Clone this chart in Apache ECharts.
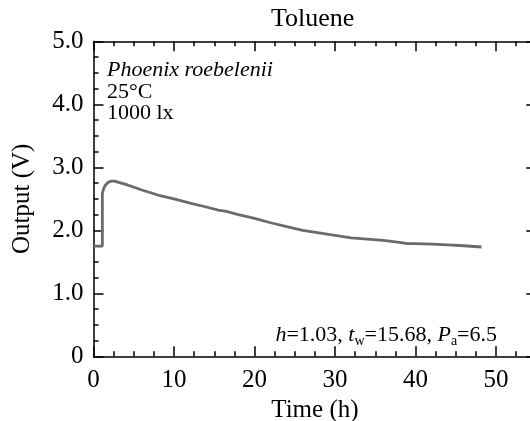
<!DOCTYPE html>
<html>
<head>
<meta charset="utf-8">
<script src="https://cdn.jsdelivr.net/npm/echarts@6/dist/echarts.min.js"></script>
<style>
  html, body { margin: 0; padding: 0; overflow: hidden; background: #fff; }
  #chart { width: 530px; height: 421px; }
</style>
</head>
<body>
<div id="chart"></div>
<script>
// Sensor output over time after toluene exposure
const timeHours = [0, 1.1, 1.1, 1.25, 1.5, 1.8, 2.1, 2.6, 4, 6, 8, 10, 12, 14, 15.5, 16.5, 18, 20,
  22, 24, 26, 28, 30, 32, 34, 36, 38, 39, 40, 42, 44, 46, 48.2];
const outputVolts = [1.75, 1.75, 2.58, 2.66, 2.72, 2.76, 2.78, 2.78, 2.73, 2.64, 2.56, 2.50, 2.43, 2.37,
  2.32, 2.30, 2.25, 2.19, 2.12, 2.06, 2.00, 1.96, 1.92, 1.88, 1.86, 1.84, 1.81, 1.79, 1.79, 1.78,
  1.77, 1.755, 1.735];
const xTicks = [0, 10, 20, 30, 40, 50];
const yTickLabels = { 0: '0', 1: '1.0', 2: '2.0', 3: '3.0', 4: '4.0', 5: '5.0' };

const FONT = '"Liberation Serif", "DejaVu Serif", serif';
const points = timeHours.map((t, i) => [t, outputVolts[i]]);

const axisLine = { show: true, onZero: false, lineStyle: { color: '#000', width: 1.5 } };
const majorTick = { show: true, inside: true, length: 10, lineStyle: { color: '#000', width: 1.5 } };
const minorTick = { show: true, splitNumber: 4, length: 5, lineStyle: { color: '#000', width: 1.5 } };

const chart = echarts.init(document.getElementById('chart'), null, { renderer: 'canvas' });
chart.setOption({
  animation: false,
  backgroundColor: '#fff',
  title: {
    text: 'Toluene',
    left: 266, top: 1,
    textStyle: { fontFamily: FONT, fontSize: 26, fontWeight: 'normal', color: '#000' }
  },
  // the frame's right edge (t = 55 h) sits just past the canvas border
  grid: {
    left: 93.5, right: -6.3, top: 41.3, bottom: 64.7,
    containLabel: false, outerBoundsMode: 'none'
  },
  xAxis: [
    {
      type: 'value', position: 'bottom', min: 0, max: 55, interval: 10,
      name: 'Time (h)', nameLocation: 'middle', nameGap: 38,
      nameTextStyle: { fontFamily: FONT, fontSize: 25, color: '#000' },
      axisLine, axisTick: majorTick, minorTick,
      axisLabel: {
        fontFamily: FONT, fontSize: 25, color: '#000', margin: 12,
        formatter: v => (xTicks.includes(v) ? String(v) : '')
      },
      splitLine: { show: false }
    },
    {
      type: 'value', position: 'top', min: 0, max: 55, interval: 10,
      axisLine, axisTick: majorTick, minorTick,
      axisLabel: { show: false }, splitLine: { show: false }
    }
  ],
  yAxis: [
    {
      type: 'value', position: 'left', min: 0, max: 5, interval: 1,
      name: 'Output (V)', nameLocation: 'middle', nameGap: 59, nameRotate: 90,
      nameTextStyle: { fontFamily: FONT, fontSize: 25, color: '#000' },
      axisLine, axisTick: majorTick, minorTick,
      axisLabel: {
        fontFamily: FONT, fontSize: 25, color: '#000', margin: 10,
        formatter: v => yTickLabels[v] ?? ''
      },
      splitLine: { show: false }
    },
    {
      type: 'value', position: 'right', min: 0, max: 5, interval: 1,
      axisLine, axisTick: majorTick, minorTick,
      axisLabel: { show: false }, splitLine: { show: false }
    }
  ],
  series: [{
    type: 'line',
    data: points,
    showSymbol: false,
    lineStyle: { color: '#6b6b6b', width: 2.8 },
    itemStyle: { color: '#6b6b6b' }
  }],
  graphic: [
    {
      type: 'text', left: 107, top: 59,
      style: {
        text: 'Phoenix roebelenii', fill: '#000',
        font: 'italic 22px ' + FONT
      }
    },
    {
      type: 'text', left: 107, top: 81,
      style: { text: '25°C', fill: '#000', font: '22px ' + FONT }
    },
    {
      type: 'text', left: 107, top: 102,
      style: { text: '1000 lx', fill: '#000', font: '22px ' + FONT }
    },
    {
      type: 'text', right: 33, top: 322,
      style: {
        text: '{i|h}=1.03, {i|t}{s|w}=15.68, {i|P}{s|a}=6.5',
        fill: '#000', fontFamily: FONT, fontSize: 22, lineHeight: 26,
        rich: {
          i: { fontFamily: FONT, fontSize: 22, fontStyle: 'italic', lineHeight: 26 },
          s: { fontFamily: FONT, fontSize: 14, lineHeight: 14, verticalAlign: 'bottom' }
        }
      }
    }
  ]
});
</script>
</body>
</html>
